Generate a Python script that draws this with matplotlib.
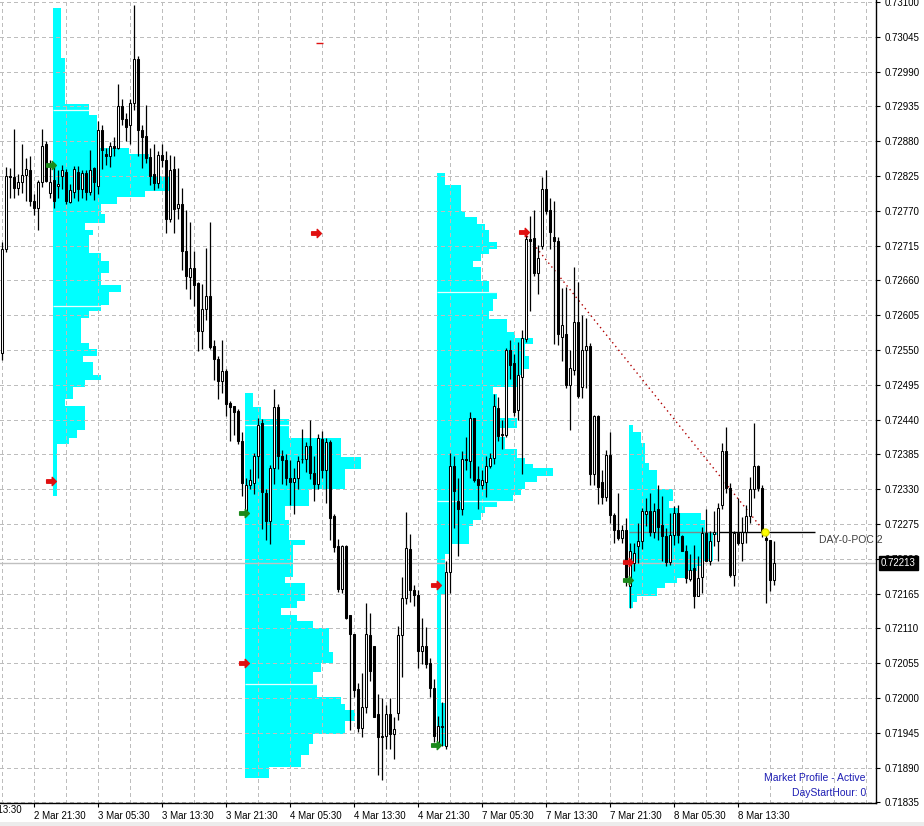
import numpy as np
import matplotlib
matplotlib.use("Agg")
import matplotlib.pyplot as plt
from matplotlib.path import Path
from matplotlib.patches import Rectangle

plt.rcParams['font.family'] = ['Liberation Sans', 'DejaVu Sans']

# 30 minute bars, 2 Mar 17:30 .. 8 Mar 14:00
opens = [.72545, .72710, .72825, .72823, .72806, .72815, .72826, .72835, .72786, .72775,
         .72815, .72876, .72798, .72818, .72810, .72825, .72832, .72784, .72800, .72831,
         .72804, .72829, .72800, .72838, .72810, .72898, .72860, .72856, .72872, .72870,
         .72935, .72915, .72906, .72940, .73010, .72897, .72888, .72855, .72828, .72814,
         .72859, .72850, .72757, .72836, .72774, .72781, .72707, .72665, .72679, .72656,
         .72580, .72615, .72635, .72557, .72536, .72501, .72517, .72467, .72462, .72454,
         .72406, .72292, .72337, .72340, .72383, .72434, .72324, .72279, .72364, .72460,
         .72383, .72376, .72348, .72341, .72348, .72377, .72378, .72398, .72355, .72339,
         .72409, .72360, .72404, .72288, .72241, .72173, .72240, .72131, .72101, .72014,
         .71953, .71986, .72099, .72082, .71974, .71940, .71940, .71974, .71943, .71976,
         .72100, .72158, .72235, .72171, .72163, .72074, .72083, .72055, .72016, .71930,
         .71955, .71924, .72199, .72366, .72312, .72299, .72378, .72374, .72442, .72346,
         .72336, .72341, .72367, .72380, .72459, .72417, .72415, .72550, .72530, .72455,
         .72507, .72568, .72726, .72727, .72672, .72714, .72804, .72771, .72729, .72723,
         .72571, .72575, .72495, .72519, .72595, .72491, .72550, .72557, .72354, .72445,
         .72342, .72317, .72384, .72290, .72266, .72253, .72266, .72177, .72213, .72240,
         .72248, .72291, .72295, .72263, .72298, .72274, .72256, .72215, .72258, .72292,
         .72256, .72233, .72188, .72205, .72161, .72191, .72261, .72217, .72260, .72248,
         .72305, .72390, .72332, .72195, .72261, .72245, .72263, .72287, .72330, .72366,
         .72332, .72253, .72249, .72187]
highs = [.72720, .72840, .72838, .72900, .72828, .72876, .72853, .72856, .72797, .72819,
         .72900, .72880, .72850, .72846, .72834, .72843, .72836, .72812, .72841, .72841,
         .72834, .72834, .72866, .72840, .72912, .72906, .72869, .72878, .72886, .72970,
         .72947, .72925, .72947, .73095, .73015, .72905, .72938, .72869, .72875, .72864,
         .72875, .72864, .72858, .72856, .72837, .72806, .72771, .72753, .72707, .72658,
         .72654, .72711, .72752, .72566, .72540, .72566, .72520, .72470, .72462, .72457,
         .72420, .72348, .72362, .72387, .72443, .72441, .72330, .72369, .72489, .72464,
         .72392, .72386, .72376, .72364, .72383, .72425, .72404, .72439, .72383, .72418,
         .72422, .72411, .72408, .72291, .72252, .72242, .72242, .72132, .72101, .72023,
         .72040, .72150, .72134, .72082, .72006, .72000, .71989, .72000, .71970, .72114,
         .72192, .72294, .72259, .72179, .72170, .72127, .72113, .72064, .72030, .71972,
         .71994, .72217, .72387, .72382, .72347, .72390, .72413, .72452, .72442, .72367,
         .72361, .72383, .72388, .72481, .72475, .72439, .72553, .72566, .72543, .72563,
         .72582, .72732, .72762, .72772, .72716, .72824, .72835, .72791, .72785, .72729,
         .72648, .72650, .72550, .72682, .72658, .72605, .72601, .72561, .72448, .72448,
         .72361, .72392, .72421, .72292, .72324, .72274, .72284, .72245, .72245, .72277,
         .72300, .72316, .72324, .72308, .72337, .72319, .72269, .72292, .72303, .72305,
         .72258, .72242, .72227, .72242, .72224, .72271, .72298, .72264, .72295, .72308,
         .72403, .72428, .72340, .72264, .72316, .72286, .72305, .72350, .72434, .72369,
         .72337, .72258, .72250, .72248]
lows = [.72535, .72705, .72790, .72790, .72795, .72798, .72786, .72778, .72764, .72740,
        .72808, .72815, .72790, .72775, .72790, .72805, .72780, .72782, .72790, .72785,
        .72790, .72787, .72795, .72787, .72797, .72836, .72843, .72840, .72856, .72868,
        .72906, .72881, .72876, .72930, .72856, .72838, .72845, .72811, .72803, .72806,
        .72840, .72735, .72752, .72735, .72757, .72677, .72647, .72630, .72619, .72549,
        .72552, .72598, .72552, .72503, .72472, .72482, .72446, .72406, .72416, .72402,
        .72319, .72288, .72330, .72322, .72348, .72267, .72249, .72244, .72339, .72362,
        .72339, .72337, .72305, .72291, .72330, .72372, .72358, .72346, .72312, .72330,
        .72348, .72309, .72249, .72231, .72168, .72166, .72125, .71949, .72002, .71946,
        .71939, .71977, .72027, .71970, .71878, .71871, .71920, .71920, .71904, .71966,
        .72034, .72148, .72152, .72145, .72048, .72054, .72048, .72002, .71930, .71924,
        .71924, .71920, .72166, .72269, .72224, .72289, .72361, .72348, .72342, .72299,
        .72331, .72318, .72364, .72370, .72406, .72393, .72413, .72504, .72445, .72439,
        .72354, .72563, .72612, .72667, .72638, .72710, .72765, .72710, .72560, .72558,
        .72532, .72490, .72424, .72511, .72474, .72474, .72490, .72337, .72337, .72306,
        .72306, .72311, .72277, .72245, .72250, .72245, .72177, .72142, .72200, .72213,
        .72235, .72272, .72256, .72253, .72250, .72216, .72208, .72211, .72242, .72245,
        .72232, .72182, .72185, .72143, .72161, .72166, .72216, .72211, .72240, .72216,
        .72298, .72324, .72192, .72177, .72242, .72216, .72245, .72277, .72316, .72327,
        .72255, .72150, .72169, .72179]
closes = [.72710, .72825, .72823, .72806, .72815, .72826, .72836, .72786, .72775, .72815,
          .72872, .72817, .72816, .72785, .72813, .72834, .72786, .72803, .72836, .72804,
          .72829, .72800, .72834, .72815, .72898, .72866, .72857, .72872, .72870, .72935,
          .72915, .72903, .72940, .73010, .72897, .72887, .72853, .72825, .72814, .72859,
          .72851, .72757, .72835, .72773, .72780, .72707, .72667, .72679, .72653, .72580,
          .72615, .72635, .72554, .72536, .72501, .72517, .72465, .72460, .72452, .72406,
          .72340, .72337, .72344, .72383, .72432, .72326, .72279, .72364, .72460, .72383,
          .72376, .72348, .72341, .72348, .72375, .72378, .72398, .72355, .72339, .72411,
          .72360, .72404, .72284, .72238, .72173, .72240, .72126, .72101, .72013, .71953,
          .71986, .72101, .72042, .71970, .71938, .71938, .71974, .71943, .71951, .72100,
          .72158, .72237, .72170, .72163, .72074, .72083, .72054, .72016, .71940, .71956,
          .71955, .72199, .72366, .72327, .72299, .72377, .72376, .72442, .72344, .72336,
          .72344, .72367, .72380, .72462, .72414, .72415, .72550, .72527, .72452, .72511,
          .72569, .72726, .72723, .72672, .72696, .72804, .72770, .72736, .72723, .72576,
          .72590, .72495, .72522, .72595, .72477, .72550, .72557, .72354, .72445, .72334,
          .72317, .72384, .72290, .72266, .72253, .72266, .72192, .72233, .72229, .72248,
          .72295, .72295, .72263, .72296, .72271, .72256, .72215, .72258, .72292, .72258,
          .72233, .72190, .72203, .72161, .72190, .72261, .72217, .72248, .72263, .72300,
          .72391, .72332, .72195, .72261, .72245, .72263, .72287, .72330, .72366, .72332,
          .72262, .72249, .72187, .72213]

# daily market profiles: first bar of day, price level boundaries (top -> bottom), width in bars
p1_start = 13
p1_levels = [.73090, .73011, .72939, .72921, .72870, .72860, .72825, .72802, .72792, .72781,
             .72765, .72751, .72740, .72732, .72703, .72690, .72672, .72653, .72641, .72621,
             .72612, .72601, .72561, .72551, .72541, .72531, .72511, .72502, .72492, .72472,
             .72462, .72424, .72411, .72401, .72319]
p1_widths = [2, 3, 9, 11, 19, 24, 29, 23, 16, 12, 13, 8, 10, 9, 12, 14, 12, 17, 14, 12,
             9, 7, 9, 11, 7.5, 10, 12, 8, 5, 3, 8, 6, 4, 1]
p2_start = 61
p2_levels = [.72482, .72460, .72441, .72411, .72381, .72362, .72331, .72303, .72281, .72249,
             .72242, .72192, .72182, .72154, .72143, .72132, .72122, .72111, .72073, .72055,
             .72041, .72022, .72002, .71991, .71981, .71963, .71943, .71928, .71910, .71891,
             .71873]
p2_widths = [2, 4, 11, 24, 29, 25, 16, 10, 11, 15, 12, 10, 15, 13, 9, 13, 17, 21, 22, 19,
             17, 18, 24, 25, 27.5, 25, 17, 16, 14, 6]
p3_start = 109
p3_levels = [.72830, .72811, .72770, .72760, .72749, .72739, .72721, .72710, .72701, .72690,
             .72681, .72659, .72641, .72631, .72612, .72599, .72579, .72569, .72560, .72540,
             .72520, .72511, .72491, .72481, .72442, .72426, .72413, .72393, .72380, .72370,
             .72364, .72351, .72341, .72331, .72321, .72312, .72302, .72292, .72282, .72272,
             .72243, .72227, .72165, .71992, .71924]
p3_widths = [2, 6, 7, 10, 12, 13, 15, 13, 11, 9, 11, 13, 15, 14, 13, 17.5, 19.5, 24, 22, 23,
             21.5, 20, 14, 15, 20, 15, 17, 20, 22, 24, 29, 25, 22, 21, 19, 15, 12, 11, 9, 8,
             3, 2, 1, 2]
p4_start = 157
p4_levels = [.72431, .72421, .72403, .72371, .72361, .72331, .72311, .72301, .72292, .72282,
             .72263, .72258, .72216, .72208, .72200, .72190, .72182, .72174, .72161, .72152,
             .72142]
p4_widths = [1, 3, 4, 5, 7, 11, 10, 12.5, 18, 19, 22, 21, 18, 17, 14, 12, 9, 7, 2, 1]

# value area marks (profile start bar, price)
va_starts = [13, 13, 61, 61, 109, 109]
va_prices = [.72930, .72620, .72431, .72022, .72641, .72312]

# signal arrows
arrow_bars = [12.25, 60.5, 108.5, 156.5, 12.25, 78.5, 60.5, 108.5, 130.5, 156.5]
arrow_prices = [.72842, .72292, .71926, .72186, .72343, .72735, .72055, .72179, .72736, .72215]
arrow_colors = ['#1b8a1b'] * 4 + ['#e01010'] * 6

trend_bars = [130.5, 190.75]
trend_prices = [.72736, .72262]
poc_price = .72262
poc_bars = [156.75, 203.25]
last_price = .72213

price_ticks = np.round(np.arange(.71835, .731001, .00055), 5)
tick_bars = [8, 24, 40, 56, 72, 88, 104, 120, 136, 152, 168, 184]
tick_labels = ['2 Mar 21:30', '3 Mar 05:30', '3 Mar 13:30', '3 Mar 21:30', '4 Mar 05:30',
               '4 Mar 13:30', '4 Mar 21:30', '7 Mar 05:30', '7 Mar 13:30', '7 Mar 21:30',
               '8 Mar 05:30', '8 Mar 13:30']

fig = plt.figure(figsize=(9.24, 8.26), dpi=100)
fig.patches.append(Rectangle((0, 0), 1, 4 / 826, transform=fig.transFigure,
                             fc='#ececec', ec='none'))
ax = fig.add_axes([0, 23 / 826, 876 / 924, 803 / 826])
ax.set_xlim(-0.5, 218.5)
ax.set_ylim(0.718341, 0.731032)

for s in ['top', 'left']:
    ax.spines[s].set_visible(False)
for s in ['right', 'bottom']:
    ax.spines[s].set_color('black')
    ax.spines[s].set_linewidth(1)

# grid
for p in price_ticks:
    ax.axhline(p, color='#bdbdbd', lw=0.8, ls=(0, (3, 3)), zorder=1.2, antialiased=False)
for b in range(0, 219, 8):
    ax.axvline(b, color='#bdbdbd', lw=0.8, ls=(0, (3, 3)), zorder=1.2, antialiased=False)

# profiles
cyan = '#00ffff'
for start, lev, wid in [(p1_start, p1_levels, p1_widths), (p2_start, p2_levels, p2_widths),
                        (p3_start, p3_levels, p3_widths), (p4_start, p4_levels, p4_widths)]:
    lev = np.array(lev)
    ax.barh(lev[1:], wid, height=lev[:-1] - lev[1:], left=start - 0.25, align='edge',
            color=cyan, edgecolor='none', zorder=1, antialiased=False)

allp = {p1_start: (p1_levels, p1_widths), p2_start: (p2_levels, p2_widths),
        p3_start: (p3_levels, p3_widths)}
for st, pr in zip(va_starts, va_prices):
    lev, wid = allp[st]
    i = max(k for k in range(len(wid)) if lev[k] >= pr)
    ax.hlines(pr, st - 0.25, st - 0.25 + wid[i], color='#e8ffff', lw=0.9, zorder=1.5)

# current price line
ax.axhline(last_price, color='#c0c0c0', lw=1, zorder=2)

# POC line of the running day
p4_right = p4_start - 0.25 + max(p4_widths)
ax.hlines(poc_price, poc_bars[0], p4_right, color='#7a8a8a', lw=1, zorder=2.5)
ax.hlines(poc_price, p4_right, poc_bars[1], color='black', lw=1, zorder=2.5)
ax.text(poc_bars[1] + 1, .72250, 'DAY-0-POC 2', fontsize=7.5, color='#404040',
        ha='left', va='center', zorder=5)

# trend line
ax.plot(trend_bars, trend_prices, color='#b00000', lw=1, ls=(0, (1, 2.5)), zorder=2.6)

# candles: wicks, then hollow up bodies and filled down bodies
o = np.array(opens); h = np.array(highs); l = np.array(lows); c = np.array(closes)
x = np.arange(len(o))
h = np.maximum(h, np.maximum(o, c))
l = np.minimum(l, np.minimum(o, c))
ax.vlines(x, l, h, color='black', lw=0.9, zorder=3)
up = c >= o
body_lo = np.minimum(o, c)
body_h = np.maximum(np.abs(c - o), 0.000004)
ax.bar(x[up], body_h[up], bottom=body_lo[up], width=0.72, color='white',
       edgecolor='black', linewidth=0.75, zorder=3.5)
ax.bar(x[~up], body_h[~up], bottom=body_lo[~up], width=0.72, color='black',
       edgecolor='black', linewidth=0.75, zorder=3.5)

# arrows
arrow = Path([(-1, -0.35), (0.15, -0.35), (0.15, -0.85), (1, 0), (0.15, 0.85),
              (0.15, 0.35), (-1, 0.35), (-1, -0.35)],
             [Path.MOVETO] + [Path.LINETO] * 6 + [Path.CLOSEPOLY])
for b, p, col in zip(arrow_bars, arrow_prices, arrow_colors):
    ax.plot(b, p, marker=arrow, ms=7, color=col, mec=col, zorder=6)
ax.plot(trend_bars[1], trend_prices[1], marker='o', ms=5, color='#ffff00',
        mec='#e0e000', zorder=6)
ax.hlines(.73035, 78.4, 80.2, color='#e01010', lw=1, zorder=6)

# axes labels
ax.yaxis.tick_right()
ax.set_yticks(price_ticks)
ax.set_yticklabels([f'{p:.5f}' for p in price_ticks])
ax.tick_params(axis='y', labelsize=7, length=3, pad=3, colors='black')
ax.set_xticks(tick_bars)
ax.set_xticklabels(tick_labels, ha='left')
ax.tick_params(axis='x', labelsize=7, length=3, pad=3)
ax.text(-8, -0.003, '2 Mar 13:30', transform=ax.get_xaxis_transform(), fontsize=7,
        ha='left', va='top', clip_on=False)

ax.text(881 / 876, last_price, f'{last_price:.5f}', transform=ax.get_yaxis_transform(),
        fontsize=7, color='white', ha='left', va='center', zorder=10, clip_on=False,
        bbox=dict(boxstyle='square,pad=0.22', fc='black', ec='black'))

ax.text(866 / 876, (803 - 778) / 803, 'Market Profile - Active', transform=ax.transAxes,
        fontsize=7.5, color='#1e1eb4', ha='right', va='center', zorder=10)
ax.text(866 / 876, (803 - 793) / 803, 'DayStartHour: 0', transform=ax.transAxes,
        fontsize=7.5, color='#1e1eb4', ha='right', va='center', zorder=10)

fig.savefig('out.png', dpi=100, facecolor='white')
